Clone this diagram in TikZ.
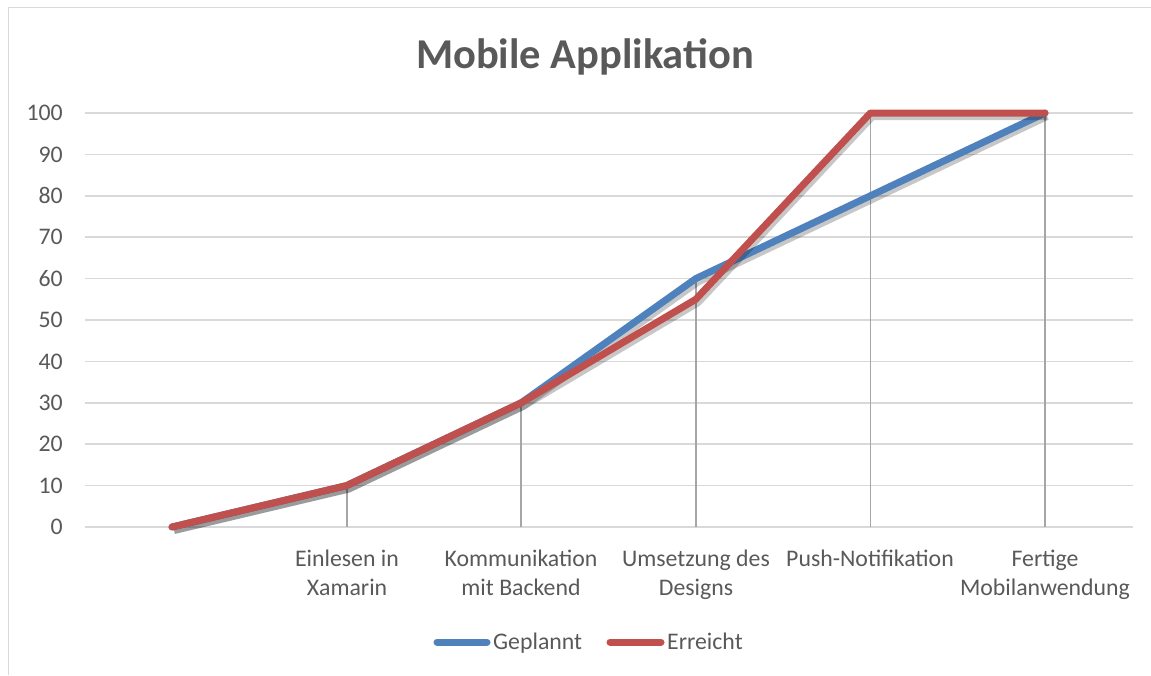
\documentclass[tikz,border=0pt]{standalone}
\usepackage{fontspec}
\setmainfont{Carlito}
\usetikzlibrary{positioning}
\definecolor{txtgray}{HTML}{595959}
\definecolor{gridgray}{HTML}{D9D9D9}
\definecolor{dropgray}{HTML}{A6A6A6}
\definecolor{planblue}{HTML}{4F81BD}
\definecolor{reachred}{HTML}{C0504D}

\begin{document}
\begin{tikzpicture}[
  x=1pt, y=-1pt,
  grid/.style={draw=gridgray, line width=1.6pt},
  dropline/.style={draw=dropgray, line width=1.8pt},
  series/.style={line width=7pt, line join=round, line cap=round},
  shade/.style={line width=8pt, line join=round, black, opacity=0.22},
  tick/.style={font=\fontsize{23.8}{28}\selectfont, text=txtgray, anchor=east, inner sep=0pt},
  cat/.style={font=\fontsize{23.8}{29}\selectfont, text=txtgray, align=center, anchor=base, inner sep=0pt},
  key/.style={font=\fontsize{23.8}{28}\selectfont, text=txtgray, anchor=base west, inner sep=0pt}
]
\useasboundingbox (0,0) rectangle (1151,675);
% frame
\draw[gridgray, line width=1.5pt] (8.5,675) |- (1151,7.5);

% title
\node[font=\fontsize{42.5}{50}\selectfont\bfseries, text=txtgray, anchor=base, inner sep=0pt]
  (title) at (585,68) {Mobile Applikation};

% value axis and grid
\foreach \v in {0,10,...,100} {
  \coordinate (g\v) at (85,527-4.14*\v);
  \coordinate (h\v) at (1133,527-4.14*\v);
  \draw[grid] (g\v) -- (h\v);
  \node[tick] (t\v) at (63,527-4.14*\v) {\v};
}

% data points
\foreach \i/\p/\r in {0/0/0, 1/10/10, 2/30/30, 3/60/55, 4/80/100, 5/100/100} {
  \coordinate (p\i) at (172+174.6*\i,527-4.14*\p);
  \coordinate (r\i) at (172+174.6*\i,527-4.14*\r);
  \coordinate (b\i) at (172+174.6*\i,527);
}

% drop lines
\draw[dropline] (p1) -- (b1);
\draw[dropline] (p2) -- (b2);
\draw[dropline] (p3) -- (b3);
\draw[dropline] (r4) -- (b4);
\draw[dropline] (r5) -- (b5);

% series
\draw[shade, transform canvas={shift={(2pt,-3pt)}}] (p0) -- (p1) -- (p2) -- (p3) -- (p4) -- (p5);
\draw[series, planblue] (p0) -- (p1) -- (p2) -- (p3) -- (p4) -- (p5);
\draw[shade, transform canvas={shift={(2pt,-3pt)}}] (r0) -- (r1) -- (r2) -- (r3) -- (r4) -- (r5);
\draw[series, reachred] (r0) -- (r1) -- (r2) -- (r3) -- (r4) -- (r5);

% category labels (base = last line)
\node[cat] (c1) at (347,595) {Einlesen in\\Xamarin};
\node[cat] (c2) at (521,595) {Kommunikation\\mit Backend};
\node[cat] (c3) at (696,595) {Umsetzung des\\Designs};
\node[cat] (c4) at (870,566) {Push-Notifikation};
\node[cat] (c5) at (1045,595) {Fertige\\Mobilanwendung};

% legend
\coordinate (kp1) at (437,642);
\coordinate (kp2) at (487,642);
\coordinate (kr1) at (610,642);
\coordinate (kr2) at (661,642);
\draw[series, planblue] (kp1) -- (kp2);
\draw[series, reachred] (kr1) -- (kr2);
\node[key] (kplan) at (493,649) {Geplannt};
\node[key] (kreach) at (667,649) {Erreicht};
\end{tikzpicture}
\end{document}
